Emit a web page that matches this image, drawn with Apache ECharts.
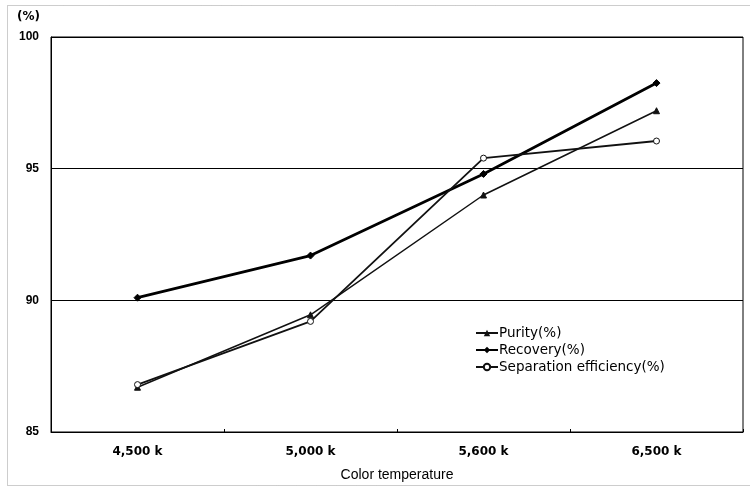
<!DOCTYPE html>
<html>
<head>
<meta charset="utf-8">
<script src="https://cdn.jsdelivr.net/npm/echarts@6/dist/echarts.min.js"></script>
<style>
  html, body { margin: 0; padding: 0; background: #fff; }
  #chart { width: 750px; height: 487px; }
</style>
</head>
<body>
<div id="chart"></div>
<script>
// Color temperature categories and measured percentages
var categories = ['4,500 k', '5,000 k', '5,600 k', '6,500 k'];
var purity = [86.7, 89.45, 94.0, 97.2];
var recovery = [90.1, 91.7, 94.8, 98.25];
var separationEfficiency = [86.8, 89.2, 95.4, 96.05];
var yTicks = [85, 90, 95, 100];

var chart = echarts.init(document.getElementById('chart'), null, { renderer: 'canvas' });

var font = 'Arial, "Liberation Sans", sans-serif';
var wideFont = '"DejaVu Sans", Arial, sans-serif';

chart.setOption({
  animation: false,
  backgroundColor: '#fff',
  textStyle: { fontFamily: font, color: '#000' },
  grid: {
    left: 51, right: 7, top: 37, bottom: 52,
    show: true, borderColor: '#000', borderWidth: 1, backgroundColor: 'transparent'
  },
  graphic: [
    {
      type: 'rect', silent: true, z: -1,
      shape: { x: 7.5, y: 5.5, width: 760, height: 480 },
      style: { fill: 'none', stroke: '#9a9a9a', lineWidth: 1, lineDash: [1, 1] }
    },
    {
      type: 'text', left: 17, top: 11,
      style: { text: '(%)', font: 'bold 12px ' + wideFont, fill: '#000' }
    }
  ],
  legend: {
    orient: 'vertical',
    left: 470, top: 321,
    itemGap: 3,
    itemWidth: 22, itemHeight: 8,
    textStyle: { fontSize: 13.5, fontFamily: wideFont, color: '#000', lineHeight: 14, padding: [0, 0, 0, -4] },
    data: ['Purity(%)', 'Recovery(%)', 'Separation efficiency(%)']
  },
  xAxis: {
    type: 'category',
    data: categories,
    boundaryGap: true,
    name: 'Color temperature',
    nameLocation: 'middle',
    nameGap: 36,
    nameTextStyle: { fontSize: 14, fontFamily: font, color: '#000' },
    axisLine: { lineStyle: { color: '#000', width: 1 } },
    axisTick: { show: true, inside: true, length: 3, lineStyle: { color: '#000' } },
    axisLabel: { fontSize: 12, fontWeight: 'bold', fontFamily: wideFont, color: '#000', margin: 14 },
    splitLine: { show: false }
  },
  yAxis: {
    type: 'value',
    min: yTicks[0], max: yTicks[yTicks.length - 1], interval: 5,
    axisLine: { show: true, lineStyle: { color: '#000', width: 1 } },
    axisTick: { show: false },
    axisLabel: { fontSize: 12, fontWeight: 'bold', color: '#000', margin: 12 },
    splitLine: { show: true, lineStyle: { color: '#000', width: 1 } }
  },
  series: [
    {
      name: 'Purity(%)', type: 'line', data: purity,
      symbol: 'triangle', symbolSize: 6,
      lineStyle: { color: '#111', width: 1.5 },
      itemStyle: { color: '#111', borderColor: '#111' }
    },
    {
      name: 'Recovery(%)', type: 'line', data: recovery,
      symbol: 'diamond', symbolSize: 7,
      lineStyle: { color: '#000', width: 2.8 },
      itemStyle: { color: '#000', borderColor: '#000' }
    },
    {
      name: 'Separation efficiency(%)', type: 'line', data: separationEfficiency,
      symbol: 'circle', symbolSize: 6,
      lineStyle: { color: '#111', width: 1.8 },
      itemStyle: { color: '#fff', borderColor: '#111', borderWidth: 1 }
    }
  ]
});
</script>
</body>
</html>
